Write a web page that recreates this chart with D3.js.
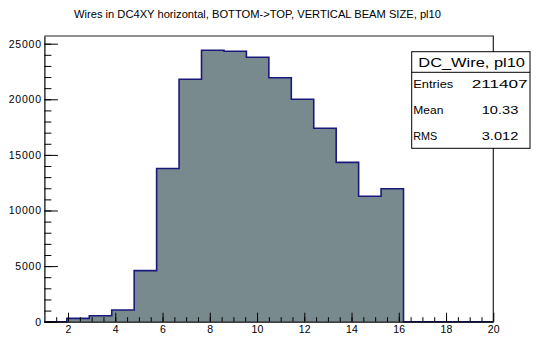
<!DOCTYPE html>
<html>
<head>
<meta charset="utf-8">
<script src="https://cdn.jsdelivr.net/npm/d3@7"></script>
<style>
  html, body { margin: 0; padding: 0; background: #fff; }
  svg { display: block; font-family: "Liberation Sans", Arial, sans-serif; }
</style>
</head>
<body>
<svg id="chart" width="536" height="337"></svg>
<script>
// Histogram definition: 20 equal bins from 1 to 20
const binLow = 1;
const binHigh = 20;
const binCounts = [0, 300, 540, 1050, 4590, 13780, 21800, 24410, 24320, 23780,
                   21940, 20000, 17390, 14330, 11280, 11960, 0, 0, 0, 0];

const xMajorTicks = [2, 4, 6, 8, 10, 12, 14, 16, 18, 20];
const yMajorTicks = [0, 5000, 10000, 15000, 20000, 25000];

const titleText = "Wires in DC4XY horizontal, BOTTOM->TOP, VERTICAL BEAM SIZE, pl10";
const statsName = "DC_Wire, pl10";
const statsLabels = ["Entries", "Mean", "RMS"];
const statsValues = ["211407", "10.33", "3.012"];

const svg = d3.select("#chart");

const frame = { left: 44.4, right: 493.3, top: 36, bottom: 321.7 };
const yMax = 1.0525 * d3.max(binCounts);

const x = d3.scaleLinear().domain([binLow, binHigh]).range([frame.left, frame.right]);
const y = d3.scaleLinear().domain([0, yMax]).range([frame.bottom, frame.top]);

const nBins = binCounts.length;
const bw = (binHigh - binLow) / nBins;

// Step outline of the histogram
const pts = [[binLow, 0]];
binCounts.forEach((c, i) => {
  pts.push([binLow + i * bw, c]);
  pts.push([binLow + (i + 1) * bw, c]);
});
pts.push([binHigh, 0]);

const line = d3.line().x(d => x(d[0])).y(d => y(d[1]));

svg.append("path")
  .attr("d", line(pts) + "Z")
  .attr("fill", "#798a8f")
  .attr("stroke", "none");

svg.append("path")
  .attr("d", line(pts))
  .attr("fill", "none")
  .attr("stroke", "#1a1a7c")
  .attr("stroke-width", 1.6);

// Frame top and right edges
svg.append("path")
  .attr("d", `M${frame.left},${frame.top}H${frame.right}V${frame.bottom}`)
  .attr("fill", "none")
  .attr("stroke", "#222")
  .attr("stroke-width", 1.2);

// Y axis: minor ticks then major ticks with labels
const yMinor = d3.range(0, 25001, 1000);
svg.append("g")
  .attr("transform", `translate(${frame.left},0)`)
  .call(d3.axisLeft(y).tickValues(yMinor).tickSize(-7).tickFormat(""))
  .call(g => g.select(".domain").remove())
  .call(g => g.selectAll("line").attr("stroke", "#000"));

const yAxis = svg.append("g")
  .attr("transform", `translate(${frame.left},0)`)
  .call(d3.axisLeft(y).tickValues(yMajorTicks).tickSize(-13.5).tickSizeOuter(0).tickPadding(2.5).tickFormat(d3.format("d")));
yAxis.select(".domain").attr("stroke", "#000").attr("stroke-width", 1.2);
yAxis.selectAll("line").attr("stroke", "#000");
yAxis.selectAll("text")
  .attr("fill", "#000")
  .style("font-size", "10.5px")
  .style("letter-spacing", "0.8px");

// X axis: minor ticks then major ticks with labels
const xMinor = d3.range(1.5, 20, 0.5);
svg.append("g")
  .attr("transform", `translate(0,${frame.bottom})`)
  .call(d3.axisBottom(x).tickValues(xMinor).tickSize(-4.5).tickFormat(""))
  .call(g => g.select(".domain").remove())
  .call(g => g.selectAll("line").attr("stroke", "#000"));

const xAxis = svg.append("g")
  .attr("transform", `translate(0,${frame.bottom})`)
  .call(d3.axisBottom(x).tickValues(xMajorTicks).tickSize(-9).tickSizeOuter(0).tickPadding(3.5).tickFormat(d3.format("d")));
xAxis.select(".domain").attr("stroke", "#000").attr("stroke-width", 1.2);
xAxis.selectAll("line").attr("stroke", "#000");
xAxis.selectAll("text")
  .attr("fill", "#000")
  .style("font-size", "10.5px")
  .style("letter-spacing", "0.3px");

// Title
svg.append("text")
  .attr("x", 74)
  .attr("y", 17.5)
  .attr("textLength", 367)
  .attr("lengthAdjust", "spacingAndGlyphs")
  .style("font-size", "10.5px")
  .text(titleText);

// Statistics box
const box = { x: 411.7, y: 51.7, w: 118.3, h: 96.6, sep: 72.3 };
const stats = svg.append("g");
stats.append("rect")
  .attr("x", box.x).attr("y", box.y)
  .attr("width", box.w).attr("height", box.h)
  .attr("fill", "#fff").attr("stroke", "#000").attr("stroke-width", 1);
stats.append("line")
  .attr("x1", box.x).attr("x2", box.x + box.w)
  .attr("y1", box.sep).attr("y2", box.sep)
  .attr("stroke", "#000").attr("stroke-width", 1);
stats.append("text")
  .attr("x", 418.3).attr("y", 66.5)
  .attr("textLength", 106.7)
  .attr("lengthAdjust", "spacingAndGlyphs")
  .style("font-size", "13px")
  .text(statsName);

const rowY = [87.8, 114, 140];
const labelW = [40, 30, 24];
const valueX = [[471.7, 56], [481.7, 36.6], [481.7, 36.6]];
statsLabels.forEach((lab, i) => {
  stats.append("text")
    .attr("x", 413.3).attr("y", rowY[i])
    .attr("textLength", labelW[i])
    .attr("lengthAdjust", "spacingAndGlyphs")
    .style("font-size", "10.5px")
    .text(lab);
  stats.append("text")
    .attr("x", valueX[i][0]).attr("y", rowY[i])
    .attr("textLength", valueX[i][1])
    .attr("lengthAdjust", "spacingAndGlyphs")
    .style("font-size", "10.5px")
    .text(statsValues[i]);
});
</script>
</body>
</html>
